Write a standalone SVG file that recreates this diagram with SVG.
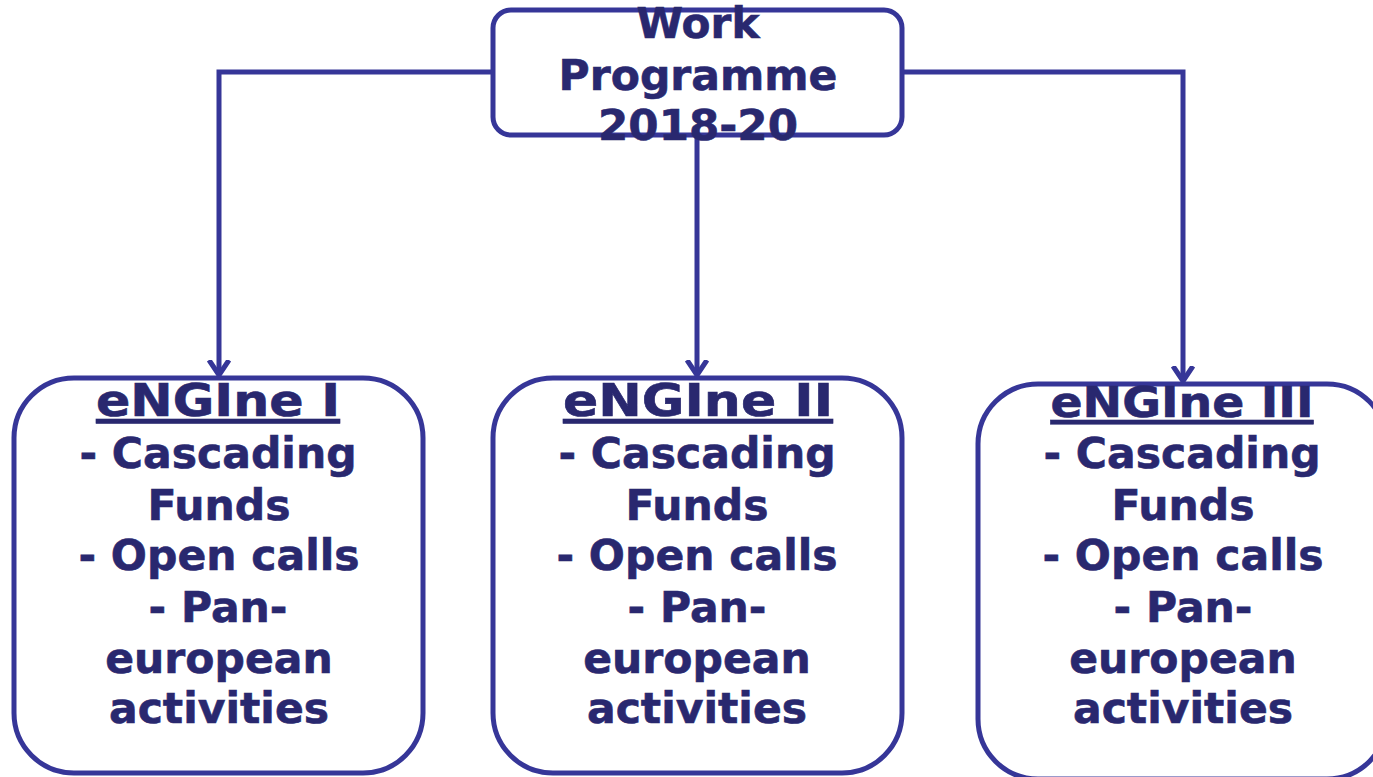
<svg xmlns="http://www.w3.org/2000/svg" width="1373" height="777" viewBox="0 0 1373 777">
<style>
.box{fill:#fff;stroke:#363698;stroke-width:5}
.con{fill:none;stroke:#363698;stroke-width:5}
.t{font-family:"DejaVu Sans",Verdana,sans-serif;font-weight:bold;font-size:42.5px;fill:#29286f;stroke:#29286f;stroke-width:0.6;text-anchor:middle}
.h{font-size:45px;text-decoration:underline}
</style>
<defs>
<marker id="arr" markerUnits="userSpaceOnUse" markerWidth="30" markerHeight="30" refX="15" refY="15" orient="auto" viewBox="0 0 30 30">
<polyline points="0,5 15,15 0,25" fill="none" stroke="#363698" stroke-width="5" stroke-linejoin="round"/>
</marker>
</defs>
<rect width="1373" height="777" fill="#fff"/>
<g id="connectors">
<path class="con" d="M493,72 H219 V375" marker-end="url(#arr)"/>
<path class="con" d="M697,135 V375" marker-end="url(#arr)"/>
<path class="con" d="M902,72 H1183 V381" marker-end="url(#arr)"/>
</g>
<g id="work-programme">
<rect class="box" x="493" y="10" width="409" height="125" rx="18"/>
<text class="t" x="698" y="38" textLength="123" lengthAdjust="spacingAndGlyphs">Work</text>
<text class="t" x="698" y="90">Programme</text>
<text class="t" x="698" y="140" textLength="200" lengthAdjust="spacingAndGlyphs">2018-20</text>
</g>
<g id="engine1">
<rect class="box" x="14" y="378" width="409" height="395" rx="60"/>
<text class="t h" x="218" y="416" textLength="244" lengthAdjust="spacingAndGlyphs">eNGIne I</text>
<text class="t" x="218" y="468">- Cascading</text>
<text class="t" x="219" y="520">Funds</text>
<text class="t" x="219" y="570">- Open calls</text>
<text class="t" x="218" y="622">- Pan-</text>
<text class="t" x="219" y="673">european</text>
<text class="t" x="219" y="723">activities</text>
</g>
<g id="engine2">
<rect class="box" x="493" y="378" width="409" height="395" rx="60"/>
<text class="t h" x="698" y="416" textLength="270" lengthAdjust="spacingAndGlyphs">eNGIne II</text>
<text class="t" x="697" y="468">- Cascading</text>
<text class="t" x="697" y="520">Funds</text>
<text class="t" x="697" y="570">- Open calls</text>
<text class="t" x="697" y="622">- Pan-</text>
<text class="t" x="697" y="673">european</text>
<text class="t" x="697" y="723">activities</text>
</g>
<g id="engine3">
<rect class="box" x="978" y="384" width="409" height="395" rx="60"/>
<text class="t h" x="1182" y="417" style="font-size:42px" textLength="263" lengthAdjust="spacingAndGlyphs">eNGIne III</text>
<text class="t" x="1182" y="468">- Cascading</text>
<text class="t" x="1183" y="520">Funds</text>
<text class="t" x="1183" y="570">- Open calls</text>
<text class="t" x="1183" y="622">- Pan-</text>
<text class="t" x="1183" y="673">european</text>
<text class="t" x="1183" y="723">activities</text>
</g>
</svg>
